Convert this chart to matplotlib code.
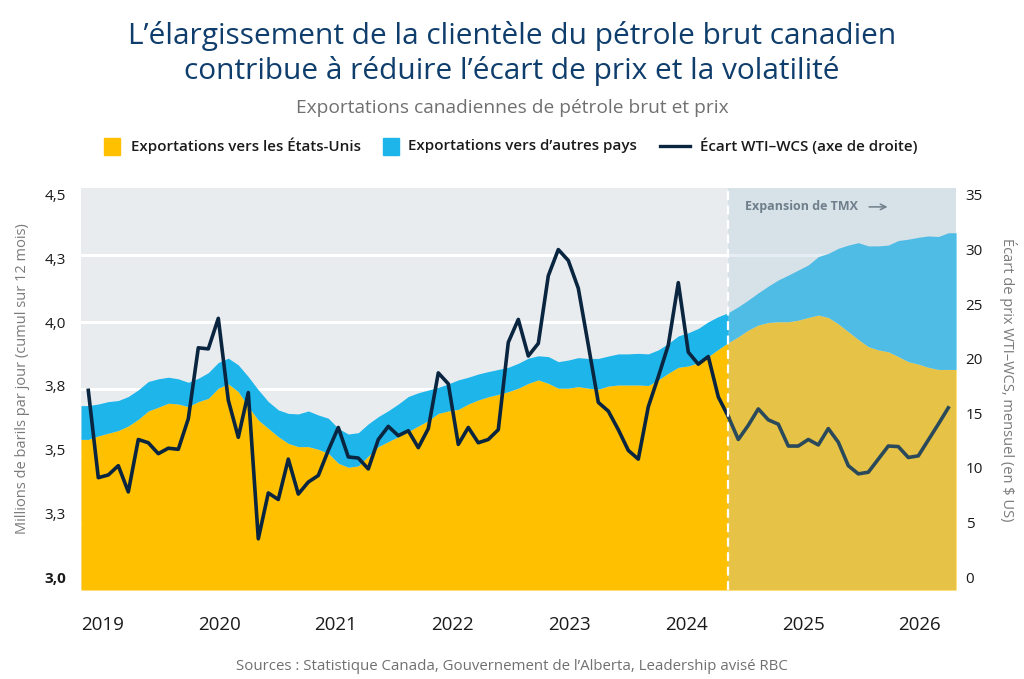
import matplotlib.pyplot as plt
import numpy as np
from matplotlib.patches import Rectangle
from matplotlib.lines import Line2D
import matplotlib.transforms as mtransforms

plt.rcParams['font.family'] = ['Open Sans', 'DejaVu Sans']

# exportations (millions b/j, cumul 12 mois)
exports_us = [3.562, 3.575, 3.585, 3.595, 3.612, 3.637, 3.668, 3.682, 3.697, 3.694, 3.684,
              3.703, 3.715, 3.753, 3.769, 3.740, 3.684, 3.634, 3.603, 3.572, 3.547, 3.535,
              3.535, 3.525, 3.510, 3.473, 3.458, 3.463, 3.500, 3.535, 3.554, 3.572, 3.591,
              3.612, 3.632, 3.659, 3.668, 3.674, 3.694, 3.709, 3.721, 3.730, 3.740, 3.753,
              3.771, 3.784, 3.771, 3.753, 3.753, 3.759, 3.753, 3.749, 3.761, 3.765, 3.765,
              3.765, 3.763, 3.784, 3.809, 3.831, 3.836, 3.848, 3.871, 3.898, 3.923,
              3.945, 3.970, 3.989, 3.998, 4.001, 4.001, 4.007, 4.017, 4.026, 4.017, 3.993,
              3.964, 3.935, 3.908, 3.896, 3.889, 3.871, 3.852, 3.843, 3.831, 3.823, 3.823]
exports_total = [3.688, 3.694, 3.703, 3.707, 3.722, 3.747, 3.778, 3.788, 3.794, 3.788, 3.775,
                 3.790, 3.811, 3.849, 3.865, 3.840, 3.796, 3.747, 3.703, 3.672, 3.659, 3.657,
                 3.668, 3.653, 3.641, 3.603, 3.582, 3.587, 3.620, 3.647, 3.669, 3.694, 3.722,
                 3.736, 3.746, 3.756, 3.769, 3.784, 3.794, 3.806, 3.815, 3.823, 3.831, 3.846,
                 3.865, 3.874, 3.871, 3.852, 3.858, 3.867, 3.864, 3.864, 3.873, 3.881, 3.881,
                 3.883, 3.881, 3.896, 3.920, 3.948, 3.960, 3.976, 4.001, 4.020, 4.035,
                 4.057, 4.082, 4.109, 4.134, 4.157, 4.175, 4.194, 4.213, 4.244, 4.256, 4.275,
                 4.287, 4.296, 4.284, 4.284, 4.287, 4.304, 4.309, 4.316, 4.321, 4.319, 4.333]
# ecart WTI-WCS mensuel ($ US)
spread = [17.1, 9.1, 9.35, 10.2, 7.8, 12.6, 12.3, 11.3, 11.8, 11.7, 14.5, 21.0, 20.9, 23.7,
          16.2, 12.8, 16.9, 3.5, 7.7, 7.1, 10.8, 7.6, 8.7, 9.3, 11.6, 13.7, 11.0, 10.9, 9.9,
          12.6, 13.8, 12.95, 13.4, 11.85, 13.6, 18.7, 17.7, 12.15, 13.7, 12.3, 12.6, 13.5,
          21.5, 23.6, 20.25, 21.4, 27.6, 30.0, 29.0, 26.45, 21.25, 16.0, 15.2, 13.5, 11.6,
          10.8, 15.6, 18.35, 21.25, 26.97, 20.6, 19.5, 20.2, 16.5, 14.7, 12.6, 13.9, 15.4,
          14.4, 14.0, 12.0, 12.0, 12.6, 12.1, 13.6, 12.35, 10.2, 9.45, 9.6, 10.8, 12.0, 11.95,
          10.95, 11.1, 12.55, 14.0, 15.5]
tmx_start = 64  # point ou commence l'expansion de TMX
years = ['2019', '2020', '2021', '2022', '2023', '2024', '2025', '2026']
left_labels = ['3,0', '3,3', '3,5', '3,8', '4,0', '4,3', '4,5']
right_ticks = [0, 5, 10, 15, 20, 25, 30, 35]

YELLOW = '#FFC000'
BLUE = '#1EB5EA'
NAVY = '#0A2540'
GREY = '#707070'

fig = plt.figure(figsize=(10.24, 6.79), dpi=100)
ax = fig.add_axes([81/1024, 89/679, 875/1024, 402/679])
ax.set_facecolor('#E9ECEF')
x0, x1 = -0.73, 86.77
ax.set_xlim(x0, x1)
ax.set_ylim(3.0, 4.5)

idx = np.arange(len(spread))
xa = np.r_[x0, idx, x1]
us = np.r_[exports_us[0], exports_us, exports_us[-1]]
tot = np.r_[exports_total[0], exports_total, exports_total[-1]]
ax.fill_between(xa, 3.0, us, color=YELLOW, lw=0, zorder=2)
ax.fill_between(xa, us, tot, color=BLUE, lw=0, zorder=2)

ax2 = ax.twinx()
r_lo, r_hi = -1.19, 35.64
ax2.set_ylim(r_lo, r_hi)
ax2.set_xlim(x0, x1)
ax2.axvspan(tmx_start, x1, color='#B4CCDC', alpha=0.32, lw=0, zorder=1)
ax2.plot(idx[:tmx_start + 1], spread[:tmx_start + 1], color=NAVY, lw=2.6,
         solid_joinstyle='round', zorder=3)
ax2.plot(idx[tmx_start:], spread[tmx_start:], color='#2A4A5C', lw=2.6,
         solid_joinstyle='round', zorder=3)
ax2.axvline(tmx_start, color='white', lw=1.6, ls=(0, (4, 2.5)), zorder=4)

blend = mtransforms.blended_transform_factory(ax2.transData, ax2.transAxes)
ax2.text(tmx_start + 1.7, 0.953, 'Expansion de TMX', transform=blend, fontsize=9,
         weight='bold', color='#6F7F8B', va='center')
ax2.annotate('', xy=(tmx_start + 16.2, 0.953), xytext=(tmx_start + 13.8, 0.953),
             xycoords=blend, arrowprops=dict(arrowstyle='->', color='#6F7F8B', lw=1.1))

# grille blanche (sous les aires)
ax.set_yticks([3.25, 3.5, 3.75, 4.0, 4.25], minor=True)
ax.grid(which='minor', axis='y', color='white', lw=2.2)
ax.set_axisbelow(True)
# etiquettes de gauche alignees sur celles de droite
label_pos = 3.0 + (np.linspace(0, 35, len(left_labels)) - r_lo) / (r_hi - r_lo) * 1.5
ax.set_yticks(label_pos, left_labels)
ax.get_yticklabels()[0].set_fontweight('bold')
ax.tick_params(axis='y', which='both', length=0, pad=11, labelsize=11, labelcolor='#1a1a1a')

year_pos = 1.4 + 11.68 * np.arange(len(years))
ax.set_xticks(year_pos, years)
ax.tick_params(axis='x', length=0, pad=19, labelsize=13.5, labelcolor='#1a1a1a')

ax2.set_yticks(right_ticks)
ax2.tick_params(axis='y', length=0, pad=7, labelsize=11, labelcolor='#1a1a1a')

for a in (ax, ax2):
    for s in a.spines.values():
        s.set_visible(False)

fig.text(0.0215, 0.443, 'Millions de barils par jour (cumul sur 12 mois)', rotation=90,
         ha='center', va='center', fontsize=10.5, color='#7A7A7A')
fig.text(0.984, 0.441, 'Écart de prix WTI–WCS, mensuel (en $ US)', rotation=270,
         ha='center', va='center', fontsize=10.5, color='#7A7A7A')

fig.text(0.5, 0.921, 'L’élargissement de la clientèle du pétrole brut canadien\n'
         'contribue à réduire l’écart de prix et la volatilité',
         ha='center', va='center', fontsize=21.5, color='#0F3E6D', linespacing=1.2)
fig.text(0.5, 0.841, 'Exportations canadiennes de pétrole brut et prix', ha='center',
         va='center', fontsize=13.8, color=GREY)

# legende
ly = 1 - 146/679
fig.patches.append(Rectangle((104/1024, ly - 8.5/679), 16/1024, 17/679,
                             transform=fig.transFigure, color=YELLOW))
fig.text(131/1024, ly, 'Exportations vers les États-Unis', va='center', fontsize=10.9,
         weight='semibold', color='#1a1a1a')
fig.patches.append(Rectangle((383/1024, ly - 8.5/679), 16/1024, 17/679,
                             transform=fig.transFigure, color=BLUE))
fig.text(408/1024, ly, 'Exportations vers d’autres pays', va='center', fontsize=10.9,
         weight='semibold', color='#1a1a1a')
fig.lines.append(Line2D([660/1024, 690/1024], [ly, ly], transform=fig.transFigure,
                        color=NAVY, lw=2.4))
fig.text(700/1024, ly, 'Écart WTI–WCS (axe de droite)', va='center', fontsize=10.9,
         weight='semibold', color='#1a1a1a')

fig.text(0.5, 0.019, 'Sources : Statistique Canada, Gouvernement de l’Alberta, Leadership avisé RBC',
         ha='center', va='center', fontsize=10.8, color=GREY)

fig.savefig('out.png', dpi=100)
